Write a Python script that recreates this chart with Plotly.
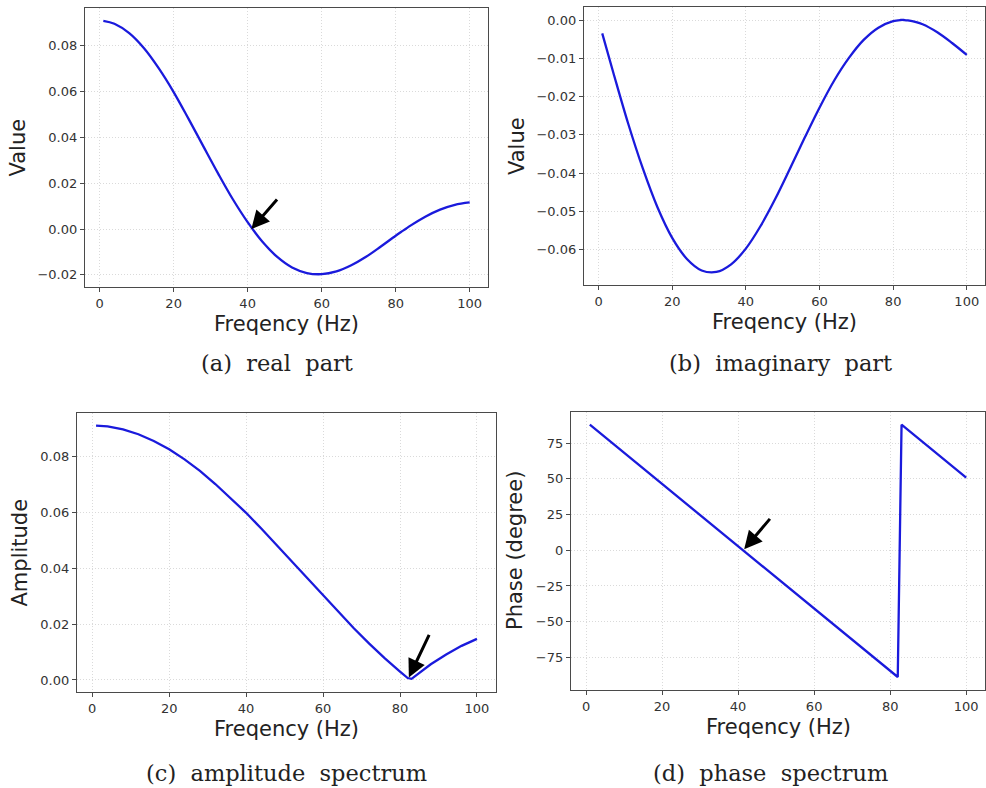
import plotly.graph_objects as go

# Spectrum samples (frequency in Hz)
freq = [1, 4, 8, 12, 16, 20, 24, 28, 32, 36, 40, 44, 48, 52, 56, 60, 64, 68, 72,
        76, 80, 82, 83, 84, 88, 92, 96, 100]
real_part = [0.0909, 0.0896, 0.0855, 0.0789, 0.0701, 0.0598, 0.0482, 0.0362, 0.0243,
             0.0130, 0.0030, -0.0056, -0.0122, -0.0168, -0.0192, -0.0197, -0.0185,
             -0.0158, -0.0121, -0.0076, -0.0029, -0.0007, 0.0004, 0.0015, 0.0054,
             0.0085, 0.0106, 0.0116]
imag_part = [-0.0035, -0.0137, -0.0269, -0.0387, -0.0489, -0.0569, -0.0624, -0.0654,
             -0.0658, -0.0638, -0.0597, -0.0538, -0.0467, -0.0388, -0.0307, -0.0229,
             -0.0158, -0.0099, -0.0052, -0.0020, -0.0003, 0.0000, 0.0000, -0.0001,
             -0.0011, -0.0032, -0.0060, -0.0091]
amplitude = [0.0910, 0.0907, 0.0896, 0.0879, 0.0855, 0.0825, 0.0789, 0.0748, 0.0701,
             0.0651, 0.0598, 0.0541, 0.0482, 0.0423, 0.0362, 0.0302, 0.0243, 0.0185,
             0.0130, 0.0078, 0.0030, 0.0007, 0.0004, 0.0015, 0.0056, 0.0091, 0.0122,
             0.0147]
freq_phase = [1, 20, 40, 60, 82, 83, 90, 100]
phase_deg = [87.8, 46.4, 2.8, -40.8, -88.7, 87.8, 72.5, 50.8]

x_ticks = [0, 20, 40, 60, 80, 100]
captions = ["(a)\u00a0 real\u00a0 part", "(b)\u00a0 imaginary\u00a0 part",
            "(c)\u00a0 amplitude\u00a0 spectrum", "(d)\u00a0 phase\u00a0 spectrum"]
y_titles = ["Value", "Value", "Amplitude", "Phase (degree)"]
x_title = "Freqency (Hz)"

W, H = 986, 788
LINE = "rgb(26,26,220)"
TICKFONT = dict(family="DejaVu Sans", size=13, color="#333333")
TITLEFONT = dict(family="DejaVu Sans", size=21, color="#222222")
CAPFONT = dict(family="DejaVu Serif", size=22.5, color="#222222")


def px_dom(a, b, total):
    return [a / total, b / total]


def py_dom(top, bottom):
    return [1 - bottom / H, 1 - top / H]


# plot areas in pixels: (left, right, top, bottom)
boxes = [(85, 488, 8, 287), (584, 985, 7, 285), (77, 496, 413, 692), (571, 985, 412, 690)]

fig = go.Figure()
fig.add_trace(go.Scatter(x=freq, y=real_part, mode="lines", line=dict(color=LINE, width=2.3, shape="spline"),
                         xaxis="x", yaxis="y", showlegend=False))
fig.add_trace(go.Scatter(x=freq, y=imag_part, mode="lines", line=dict(color=LINE, width=2.3, shape="spline"),
                         xaxis="x2", yaxis="y2", showlegend=False))
fig.add_trace(go.Scatter(x=freq, y=amplitude, mode="lines", line=dict(color=LINE, width=2.3),
                         xaxis="x3", yaxis="y3", showlegend=False))
fig.add_trace(go.Scatter(x=freq_phase, y=phase_deg, mode="lines", line=dict(color=LINE, width=2.3),
                         xaxis="x4", yaxis="y4", showlegend=False))

y_specs = [
    dict(range=[-0.0253, 0.0965], tickvals=[-0.02, 0, 0.02, 0.04, 0.06, 0.08], tickformat=".2f"),
    dict(range=[-0.0692, 0.0034], tickvals=[-0.06, -0.05, -0.04, -0.03, -0.02, -0.01, 0], tickformat=".2f"),
    dict(range=[-0.0043, 0.0955], tickvals=[0, 0.02, 0.04, 0.06, 0.08], tickformat=".2f"),
    dict(range=[-97.8, 96.7], tickvals=[-75, -50, -25, 0, 25, 50, 75]),
]

axis_common = dict(showline=True, mirror=True, linecolor="#4a4a4a", linewidth=1.2,
                   ticks="outside", ticklen=4, tickwidth=1, tickcolor="#4a4a4a",
                   showgrid=True, gridcolor="#dadada", griddash="1px,2px", gridwidth=1,
                   zeroline=False, tickfont=TICKFONT)

layout = dict(width=W, height=H, margin=dict(l=0, r=0, t=0, b=0),
              paper_bgcolor="white", plot_bgcolor="white", showlegend=False)

annotations = []
for i, (l, r, t, b) in enumerate(boxes):
    sx = "" if i == 0 else str(i + 1)
    layout["xaxis" + sx] = dict(domain=px_dom(l, r, W), anchor="y" + sx, range=[-3.95, 104.95],
                                tickvals=x_ticks, **axis_common)
    layout["yaxis" + sx] = dict(domain=py_dom(t, b), anchor="x" + sx, **y_specs[i], **axis_common)
    cx = (l + r) / 2
    cy = (t + b) / 2
    # x-axis title
    annotations.append(dict(text=x_title, xref="paper", yref="paper", x=cx / W, y=1 - (b + 37) / H,
                            showarrow=False, font=TITLEFONT, xanchor="center", yanchor="middle"))
    # y-axis title
    ylx = [17, 517, 19, 515][i]
    annotations.append(dict(text=y_titles[i], xref="paper", yref="paper", x=ylx / W, y=1 - cy / H,
                            showarrow=False, font=TITLEFONT, textangle=-90,
                            xanchor="center", yanchor="middle"))
    # caption
    cap_x = [277, 780, 286, 770][i]
    cap_y = [363, 363, 773, 773][i]
    annotations.append(dict(text=captions[i], xref="paper", yref="paper", x=cap_x / W, y=1 - cap_y / H,
                            showarrow=False, font=CAPFONT, xanchor="center", yanchor="middle"))

# pointer arrows
arrow_style = dict(text="", showarrow=True, arrowhead=2, arrowsize=1.2, arrowwidth=3,
                   arrowcolor="black", standoff=0)
annotations.append(dict(x=41.0, y=0.0, xref="x", yref="y", ax=27, ay=-31, **arrow_style))
annotations.append(dict(x=82.3, y=0.0009, xref="x3", yref="y3", ax=21, ay=-44, **arrow_style))
annotations.append(dict(x=41.6, y=0.6, xref="x4", yref="y4", ax=27, ay=-32, **arrow_style))

layout["annotations"] = annotations
fig.update_layout(**layout)
fig.write_html("out.html")
